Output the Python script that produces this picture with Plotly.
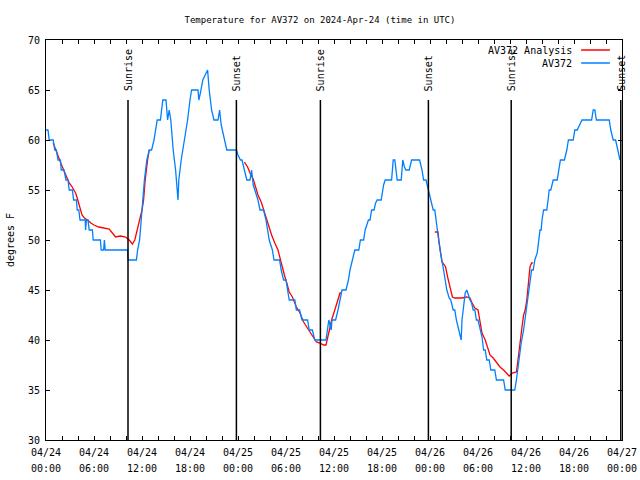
import pandas as pd
import plotly.graph_objects as go

START = pd.Timestamp("2024-04-24 00:00")

# AV372 observations: hours since 04/24 00:00 UTC, temperature (F)
obs_hours = [0.0, 0.25, 0.4, 0.9, 1.1, 1.3, 1.5, 1.8, 1.9, 2.25, 2.5, 2.75, 2.9, 3.3, 3.45, 3.8,
             3.9, 4.1, 4.25, 4.9, 4.95, 5.05, 5.25, 5.4, 5.8, 5.9, 6.8, 6.9, 7.2, 7.3, 7.4, 10.2,
             10.25, 11.3, 11.45, 11.7, 11.9, 12.1, 12.3, 12.6, 12.9, 13.2, 13.5, 13.9, 14.3, 14.6,
             15.0, 15.2, 15.4, 15.6, 15.9, 16.2, 16.4, 16.5, 16.6, 16.9, 17.3, 17.7, 18.0, 18.2,
             19.0, 19.1, 19.3, 19.6, 20.2, 20.4, 20.7, 21.0, 21.5, 21.7, 21.9, 22.3, 22.6, 23.8,
             24.0, 24.3, 24.5, 24.8, 25.1, 25.5, 25.7, 25.9, 26.1, 26.5, 26.75, 27.2, 27.5, 27.7,
             27.9, 28.3, 28.5, 29.2, 29.4, 29.7, 30.0, 30.2, 30.4, 31.1, 31.3, 31.7, 32.0, 32.7,
             32.9, 33.3, 33.6, 35.0, 35.2, 35.35, 35.5, 35.65, 35.75, 36.2, 36.5, 36.75, 37.0,
             37.5, 37.8, 38.0, 38.3, 38.6, 39.1, 39.3, 39.7, 39.9, 40.3, 40.5, 40.7, 41.0, 41.2,
             41.4, 41.9, 42.2, 42.4, 43.2, 43.4, 43.6, 43.9, 44.4, 44.6, 44.8, 45.0, 45.4, 45.7,
             46.7, 47.0, 47.2, 47.5, 47.8, 48.1, 48.4, 48.6, 48.8, 49.0, 49.25, 49.5, 49.7, 49.9,
             50.1, 50.4, 50.6, 50.9, 51.1, 51.3, 51.6, 51.9, 52.0, 52.2, 52.4, 52.6, 52.8, 53.0,
             53.2, 53.4, 53.6, 53.8, 54.0, 54.25, 54.5, 54.7, 54.9, 55.1, 55.4, 55.6, 56.1, 56.3,
             57.2, 57.4, 58.6, 58.8, 59.0, 59.2, 59.4, 59.7, 59.9, 60.1, 60.3, 60.5, 60.7, 60.9,
             61.1, 61.4, 61.6, 61.75, 61.9, 62.0, 62.2, 62.6, 62.8, 62.9, 63.1, 63.4, 63.9, 64.1,
             64.3, 64.8, 65.1, 65.3, 65.9, 66.1, 66.4, 67.0, 68.2, 68.4, 68.6, 68.8, 70.4, 70.6,
             70.9, 71.2, 71.5, 71.75]
obs_temps = [61, 61, 60, 60, 59, 59, 58, 58, 57, 57, 56, 56, 55, 55, 54, 54,
             53, 53, 52, 52, 51, 52, 52, 51, 51, 50, 50, 49, 49, 50, 49, 49,
             48, 48, 49, 50, 52, 54, 56, 58, 59, 59, 60, 62, 62, 64,
             64, 62, 63, 62, 59, 57, 55, 54, 56, 58, 60, 62, 64, 65,
             65, 64, 64.7, 66, 67, 65, 63, 62, 62, 63, 61.5, 60, 59, 59,
             58.5, 58, 58, 57, 56, 56, 57, 55.5, 55, 54, 53, 53, 52, 51,
             50, 49, 48, 48, 47, 46, 46, 45, 44, 44, 43, 43, 42, 42,
             41, 41, 40, 40, 41, 42, 41.5, 41, 42, 42, 43, 44, 45,
             45, 46, 47, 48, 49, 49, 50, 50, 51, 52, 52, 53, 53, 53.7,
             54, 54, 55.5, 56, 56, 58, 58, 56, 56, 58, 57.3, 57, 57, 58,
             58, 57, 56, 56, 55, 54, 53, 53, 51.5, 50.5, 49, 48, 47, 46,
             45, 44.2, 44, 43, 43, 42, 41, 40, 42, 43.7, 44.7, 45, 44.4, 44,
             43.7, 43, 43, 42, 42, 41, 40.3, 39, 39, 38, 38, 37, 37, 36,
             36, 35, 35, 36, 37.3, 38.7, 39.7, 41, 42.3, 43, 44.7, 45.7, 47, 47,
             48, 48.7, 50.3, 51, 51, 52, 53, 53, 54.3, 55, 55, 56, 56, 57,
             58, 58, 59, 60, 60, 61, 61, 62, 62, 63, 63, 62, 62, 61,
             60, 60, 59, 58]

# AV372 Analysis: hours since start, temperature (F); None marks gaps
ana_hours = [0.9, 1.2, 1.5, 1.8, 2.05, 2.3, 2.6, 2.9, 3.2, 3.4, 3.7, 3.9, 4.1, 4.3, 4.5, 4.8,
             5.2, 5.6, 6.0, 6.6, 7.25, 7.9, 8.3, 8.7, 9.3, 9.95, 10.4, 10.8, 11.1, 11.4, 11.75,
             12.0, 12.2, 12.4, 12.7, 12.9,
             18.0,
             24.8, 25.2, 25.5, 25.9, 26.2, 26.5, 26.9, 27.2, 27.6, 27.9, 28.2, 28.6, 29.0, 29.25,
             29.5, 29.8, 30.1, 30.4, 30.8, 31.3, 31.75, 32.2, 32.6, 33.0, 33.4, 33.8, 34.25, 34.7,
             35.0, 35.2, 35.45, 35.7, 36.1, 36.5, 36.75, 36.9,
             42.0,
             48.6, 49.0, 49.1, 49.25, 49.5, 49.8, 49.95, 50.2, 50.5, 50.8, 51.1, 52.0, 52.6, 53.0,
             53.2, 53.6, 54.0, 54.25, 54.5, 54.9, 55.2, 55.5, 55.9, 56.3, 56.75, 57.2, 57.6, 57.9,
             58.3, 58.8, 59.0, 59.25, 59.5, 59.7, 59.9, 60.1, 60.3, 60.5, 60.7, 60.85]
ana_temps = [59.7, 59.0, 58.3, 57.8, 57.3, 56.8, 56.2, 55.7, 55.4, 55.1, 54.7, 54.2, 53.7, 53.1,
             52.5, 52.2, 52.0, 51.7, 51.5, 51.3, 51.2, 51.1, 50.7, 50.3, 50.4, 50.3, 50.0, 49.6,
             50.0, 51.0, 52.0, 53.0, 54.0, 56.0, 58.0, 59.0,
             None,
             57.8, 57.3, 56.7, 56.1, 55.3, 54.5, 53.8, 53.0, 52.0, 51.3, 50.5, 49.7, 49.0, 48.2,
             47.3, 46.5, 45.7, 44.8, 44.3, 43.3, 42.7, 41.8, 41.3, 40.8, 40.3, 39.8, 39.7, 39.5,
             39.5, 40.3, 41.2, 42.0, 43.0, 44.0, 44.7, 44.7,
             None,
             50.8, 50.8, 50.0, 49.0, 47.8, 47.5, 47.3, 46.3, 45.3, 44.3, 44.2, 44.2, 44.3, 44.2,
             43.8, 43.2, 43.0, 41.7, 40.7, 40.0, 39.3, 38.5, 38.2, 37.8, 37.3, 37.0, 36.7, 36.4,
             36.7, 36.8, 38.0, 40.0, 41.3, 42.5, 43.0, 44.0, 45.7, 47.3, 47.7, 47.7]

# Sunrise / sunset events (hours since start)
event_hours = [10.25, 23.8, 34.3, 47.8, 58.15, 71.85]
event_labels = ["Sunrise", "Sunset", "Sunrise", "Sunset", "Sunrise", "Sunset"]

# x tick labels every 6 hours (date row and time row)
tick_hours = list(range(0, 73, 6))
tick_dates = ["04/24", "04/24", "04/24", "04/24", "04/25", "04/25", "04/25", "04/25",
              "04/26", "04/26", "04/26", "04/26", "04/27"]
tick_times = ["00:00", "06:00", "12:00", "18:00", "00:00", "06:00", "12:00", "18:00",
              "00:00", "06:00", "12:00", "18:00", "00:00"]

series_names = ["AV372 Analysis", "AV372"]
series_colors = ["#ff0000", "#0080ff"]


def to_time(hours):
    return [START + pd.Timedelta(hours=h) for h in hours]


FONT = "DejaVu Sans Mono"
X_RANGE = [START, START + pd.Timedelta(hours=72)]

fig = go.Figure()
fig.add_trace(go.Scatter(x=to_time(ana_hours), y=ana_temps, mode="lines",
                         line=dict(color=series_colors[0], width=1.3),
                         connectgaps=False, name=series_names[0], showlegend=False))
fig.add_trace(go.Scatter(x=to_time(obs_hours), y=obs_temps, mode="lines",
                         line=dict(color=series_colors[1], width=1.3),
                         name=series_names[1], showlegend=False))
# empty trace so the second (time-of-day) label row axis is drawn
fig.add_trace(go.Scatter(x=[], y=[], xaxis="x2", showlegend=False, hoverinfo="skip"))

shapes = []
annotations = []
for h, lab in zip(event_hours, event_labels):
    t = START + pd.Timedelta(hours=h)
    shapes.append(dict(type="line", xref="x", yref="y", x0=t, x1=t, y0=30, y1=64,
                       line=dict(color="black", width=1.5)))
    annotations.append(dict(x=t, y=64.7, xref="x", yref="y", text=lab, textangle=-90,
                            showarrow=False, xanchor="center", yanchor="bottom",
                            font=dict(family=FONT, size=10, color="black")))

# manual legend (text right-aligned, sample line to the right)
leg_y = [0.975, 0.9425]
for name, col, yy in zip(series_names, series_colors, leg_y):
    annotations.append(dict(x=0.917, y=yy, xref="paper", yref="paper", text=name,
                            showarrow=False, xanchor="right", yanchor="middle",
                            font=dict(family=FONT, size=10, color="black")))
    shapes.append(dict(type="line", xref="paper", yref="paper", x0=0.929, x1=0.979,
                       y0=yy, y1=yy, line=dict(color=col, width=1.5)))

fig.update_layout(
    width=640, height=480,
    margin=dict(l=46, r=18, t=40, b=40, autoexpand=False),
    paper_bgcolor="white", plot_bgcolor="white",
    font=dict(family=FONT, size=10, color="black"),
    title=dict(text="Temperature for AV372 on 2024-Apr-24 (time in UTC)",
               x=0.5, xref="container", xanchor="center",
               y=1 - 20 / 480, yref="container", yanchor="middle",
               font=dict(family=FONT, size=9, color="black")),
    shapes=shapes, annotations=annotations, showlegend=False,
)
fig.update_xaxes(
    type="date", range=X_RANGE, automargin=False,
    tickvals=to_time(tick_hours), ticktext=tick_dates,
    ticks="inside", ticklen=4, tickcolor="black", ticklabelstandoff=3,
    ticklabeloverflow="allow",
    minor=dict(dtick=2 * 3600 * 1000, ticks="inside", ticklen=4, tickcolor="black"),
    showline=True, linecolor="black", linewidth=1, mirror="ticks",
    showgrid=False, zeroline=False,
)
fig.update_layout(xaxis2=dict(
    type="date", range=X_RANGE, overlaying="x", matches="x", anchor="y", side="bottom",
    automargin=False, ticklabeloverflow="allow",
    tickvals=to_time(tick_hours), ticktext=tick_times,
    ticks="", ticklabelstandoff=21, showline=False, showgrid=False, zeroline=False,
    tickfont=dict(family=FONT, size=10, color="black"),
))
fig.update_yaxes(
    range=[30, 70], tickvals=[30, 35, 40, 45, 50, 55, 60, 65, 70], automargin=False,
    ticks="inside", ticklen=4, tickcolor="black", ticklabelstandoff=3,
    showline=True, linecolor="black", linewidth=1, mirror="ticks",
    showgrid=False, zeroline=False,
    title=dict(text="degrees F", standoff=11, font=dict(family=FONT, size=10)),
)

fig.write_html(
    "out.html",
    config={"displayModeBar": False},
    post_script="document.body.style.margin='0';document.body.style.overflow='hidden';",
)
